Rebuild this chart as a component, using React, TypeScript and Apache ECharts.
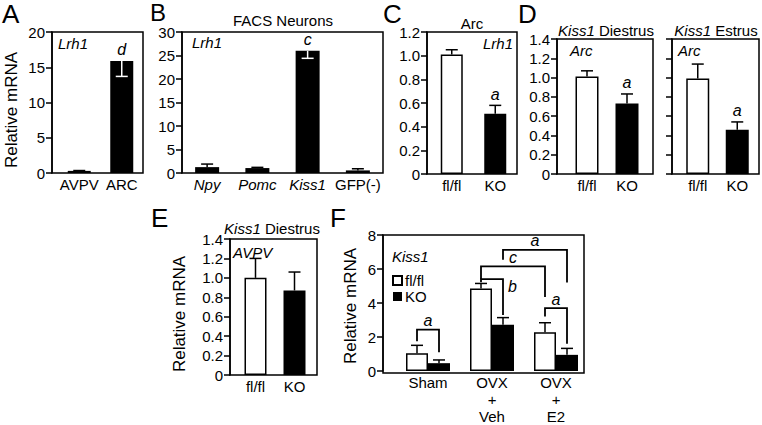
import React, { useEffect, useRef } from 'react';
import * as echarts from 'echarts';

const FONT = '"Liberation Sans", Arial, Helvetica, sans-serif';

// ---------- Data ----------
// A
const aCategories = ['AVPV', 'ARC'];
const aValues = [0.3, 15.9];
const aErrors = [0.05, 2.2];
const aErrDir = [1, -1];
const aSig = ['', 'd'];
const aAxis = [0, 20, 5];
// B
const bCategories = ['Npy', 'Pomc', 'Kiss1', 'GFP(-)'];
const bValues = [1.25, 1.05, 26.0, 0.55];
const bErrors = [0.65, 0.15, 1.6, 0.35];
const bErrDir = [1, 1, -1, 1];
const bSig = ['', '', 'c', ''];
const bAxis = [0, 30, 5];
// C
const cCategories = ['fl/fl', 'KO'];
const cValues = [1.01, 0.51];
const cErrors = [0.04, 0.07];
const cSig = ['', 'a'];
const cAxis = [0, 1.2, 0.2];
// D
const dCategories = ['fl/fl', 'KO'];
const dDiestrusValues = [1.01, 0.73];
const dDiestrusErrors = [0.06, 0.1];
const dEstrusValues = [0.99, 0.46];
const dEstrusErrors = [0.15, 0.08];
const dSig = ['', 'a'];
const dAxis = [0, 1.4, 0.2];
// E
const eCategories = ['fl/fl', 'KO'];
const eValues = [1.0, 0.87];
const eErrors = [0.2, 0.19];
const eSig = ['', ''];
const eAxis = [0, 1.4, 0.2];
// F
const fCategories = ['Sham', 'OVX\n+\nVeh', 'OVX\n+\nE2'];
const fFlflValues = [1.04, 4.85, 2.28];
const fFlflErrors = [0.47, 0.3, 0.56];
const fKoValues = [0.46, 2.72, 0.95];
const fKoErrors = [0.19, 0.42, 0.38];
const fAxis = [0, 8, 2];
// brackets: [fromCat, fromSide, fromDrop, toCat, toSide, toDrop, level, letter, letterPos]
const fBrackets: any[] = [
  [0, -1, 1.75, 0, 1, 1.1, 2.43, 'a', 'top'],
  [1, -1, 5.22, 1, 1, 3.3, 5.4, 'b', 'right'],
  [1, -1, 5.4, 2, -1, 4.35, 6.15, 'c', 'top'],
  [1, 1, 6.55, 2, 1, 5.2, 7.13, 'a', 'top'],
  [2, -1, 3.2, 2, 1, 1.6, 3.7, 'a', 'top'],
];

// ---------- Layout ----------
const frames: Record<string, any> = {
  A: { x: 52, y: 32, w: 91, h: 141, gl: 58, gr: 143, bw: 23 },
  B: { x: 182, y: 32, w: 201, h: 141, gl: 182, gr: 383, bw: 24 },
  C: { x: 427, y: 32, w: 90, h: 142, gl: 430, gr: 517, bw: 22 },
  D1: { x: 557, y: 39, w: 96, h: 135, gl: 567, gr: 647, bw: 23 },
  D2: { x: 672, y: 39, w: 87, h: 135, gl: 678, gr: 757, bw: 23 },
  E: { x: 230, y: 239, w: 87, h: 136, gl: 236, gr: 314, bw: 22 },
  F: { x: 383, y: 235, w: 201, h: 138, gl: 396, gr: 588, bw: 22 },
};
const order = ['A', 'B', 'C', 'D1', 'D2', 'E', 'F'];

const LW = 1.5;

function errRender(offset: number, sigs: string[] | null) {
  return (params: any, api: any) => {
    const i = api.value(0);
    const v = api.value(1);
    const e = api.value(2);
    const d = api.value(3);
    const p0 = api.coord([i, v]);
    const p1 = api.coord([i, v + d * e]);
    const x = p0[0] + offset;
    const color = d < 0 ? '#fff' : '#000';
    const children: any[] = [
      { type: 'line', shape: { x1: x, y1: p0[1], x2: x, y2: p1[1] }, style: { stroke: color, lineWidth: LW } },
      { type: 'line', shape: { x1: x - 6, y1: p1[1], x2: x + 6, y2: p1[1] }, style: { stroke: color, lineWidth: LW } },
    ];
    const s = sigs ? sigs[params.dataIndex] : '';
    if (s) {
      const topY = Math.min(p0[1], p1[1]);
      children.push({
        type: 'text',
        x: x,
        y: topY - 3,
        style: {
          text: s, fill: '#000', fontSize: 16, fontFamily: FONT, fontStyle: 'italic',
          align: 'center', verticalAlign: 'bottom', textAlign: 'center', textVerticalAlign: 'bottom',
        },
      });
    }
    return { type: 'group', children };
  };
}

function bracketRender(half: number) {
  return (params: any, api: any) => {
    const b = fBrackets[params.dataIndex];
    const xL = api.coord([b[0], 0])[0] + b[1] * half;
    const xR = api.coord([b[3], 0])[0] + b[4] * half;
    const yTop = api.coord([b[0], b[6]])[1];
    const yL = api.coord([b[0], b[2]])[1];
    const yR = api.coord([b[3], b[5]])[1];
    const children: any[] = [
      {
        type: 'polyline',
        shape: { points: [[xL, yL], [xL, yTop], [xR, yTop], [xR, yR]] },
        style: { stroke: '#000', fill: 'none', lineWidth: 1.8 },
      },
    ];
    const textStyle: any = { text: b[7], fill: '#000', fontSize: 16, fontFamily: FONT, fontStyle: 'italic' };
    if (b[8] === 'top') {
      children.push({
        type: 'text', x: (xL + xR) / 2, y: yTop - 1,
        style: { ...textStyle, align: 'center', verticalAlign: 'bottom', textAlign: 'center', textVerticalAlign: 'bottom' },
      });
    } else {
      const yT = api.coord([b[3], b[6] - 0.42])[1];
      children.push({
        type: 'text', x: xR + 5, y: yT,
        style: { ...textStyle, align: 'left', verticalAlign: 'middle', textAlign: 'left', textVerticalAlign: 'middle' },
      });
    }
    return { type: 'group', children };
  };
}

const whiteBar = { color: '#fff', borderColor: '#000', borderWidth: LW };
const blackBar = { color: '#000' };

function buildOption() {
  const grids: any[] = [];
  const xAxes: any[] = [];
  const yAxes: any[] = [];
  const series: any[] = [];
  const graphics: any[] = [];

  const fmt1 = (v: number) => (v === 0 ? '0' : v.toFixed(1));
  const fmt0 = (v: number) => String(v);
  const axisDefs: Record<string, any> = {
    A: { axis: aAxis, fmt: fmt0, cats: aCategories, labels: true },
    B: { axis: bAxis, fmt: fmt0, cats: bCategories, labels: true },
    C: { axis: cAxis, fmt: fmt1, cats: cCategories, labels: true },
    D1: { axis: dAxis, fmt: fmt1, cats: dCategories, labels: true },
    D2: { axis: dAxis, fmt: fmt1, cats: dCategories, labels: false },
    E: { axis: eAxis, fmt: fmt1, cats: eCategories, labels: true },
    F: { axis: fAxis, fmt: fmt0, cats: fCategories, labels: true },
  };

  order.forEach((k, idx) => {
    const f = frames[k];
    const ad = axisDefs[k];
    grids.push({ left: f.gl, top: f.y, width: f.gr - f.gl, height: f.h, containLabel: false });
    const labelBase: any = {
      color: '#000', fontSize: 15, fontFamily: FONT, margin: 4, interval: 0,
    };
    if (k === 'B') {
      labelBase.formatter = (v: string) => (v === 'GFP(-)' ? v : `{i|${v}}`);
      labelBase.rich = { i: { fontStyle: 'italic', fontSize: 15, fontFamily: FONT, color: '#000' } };
    }
    if (k === 'F') {
      labelBase.lineHeight = 17;
      labelBase.margin = 3;
    }
    xAxes.push({
      type: 'category', gridIndex: idx, data: ad.cats,
      axisLine: { show: false }, axisTick: { show: false }, axisLabel: labelBase,
    });
    yAxes.push({
      type: 'value', gridIndex: idx, min: ad.axis[0], max: ad.axis[1], interval: ad.axis[2],
      offset: f.gl - f.x,
      axisLine: { show: true, lineStyle: { color: '#000', width: LW } },
      axisTick: { show: true, length: 6, inside: false, lineStyle: { color: '#000', width: LW } },
      axisLabel: { show: ad.labels, color: '#000', fontSize: 15, fontFamily: FONT, margin: 7, formatter: ad.fmt },
      splitLine: { show: false },
    });
    graphics.push({
      type: 'rect', z: 100, silent: true,
      shape: { x: f.x, y: f.y, width: f.w, height: f.h },
      style: { fill: 'none', stroke: '#000', lineWidth: LW },
    });
  });

  const simple = (idx: number, name: string, vals: number[], errs: number[], dirs: number[], sigs: string[], colors: string[], bw: number) => {
    series.push({
      type: 'bar', name, xAxisIndex: idx, yAxisIndex: idx, barWidth: bw, z: 2, silent: true,
      data: vals.map((v, i) => ({ value: v, itemStyle: colors[i] === 'w' ? whiteBar : blackBar })),
    });
    series.push({
      type: 'custom', name: name + '-err', xAxisIndex: idx, yAxisIndex: idx, z: 3, silent: true,
      encode: { x: 0, y: 1 },
      renderItem: errRender(0, sigs),
      data: vals.map((v, i) => [i, v, errs[i], dirs[i]]),
    });
  };

  simple(0, 'A', aValues, aErrors, aErrDir, aSig, ['k', 'k'], frames.A.bw);
  simple(1, 'B', bValues, bErrors, bErrDir, bSig, ['k', 'k', 'k', 'k'], frames.B.bw);
  simple(2, 'C', cValues, cErrors, [1, 1], cSig, ['w', 'k'], frames.C.bw);
  simple(3, 'D1', dDiestrusValues, dDiestrusErrors, [1, 1], dSig, ['w', 'k'], frames.D1.bw);
  simple(4, 'D2', dEstrusValues, dEstrusErrors, [1, 1], dSig, ['w', 'k'], frames.D2.bw);
  simple(5, 'E', eValues, eErrors, [1, 1], eSig, ['w', 'k'], frames.E.bw);

  const fw = frames.F.bw;
  series.push({
    type: 'bar', name: 'fl/fl', xAxisIndex: 6, yAxisIndex: 6, barWidth: fw, barGap: '0%', z: 2, silent: true,
    itemStyle: whiteBar, data: fFlflValues,
  });
  series.push({
    type: 'bar', name: 'KO', xAxisIndex: 6, yAxisIndex: 6, barWidth: fw, barGap: '0%', z: 2, silent: true,
    itemStyle: blackBar, data: fKoValues,
  });
  series.push({
    type: 'custom', name: 'F-err-flfl', xAxisIndex: 6, yAxisIndex: 6, z: 3, silent: true, encode: { x: 0, y: 1 },
    renderItem: errRender(-fw / 2, null),
    data: fFlflValues.map((v, i) => [i, v, fFlflErrors[i], 1]),
  });
  series.push({
    type: 'custom', name: 'F-err-ko', xAxisIndex: 6, yAxisIndex: 6, z: 3, silent: true, encode: { x: 0, y: 1 },
    renderItem: errRender(fw / 2, null),
    data: fKoValues.map((v, i) => [i, v, fKoErrors[i], 1]),
  });
  series.push({
    type: 'custom', name: 'F-brackets', xAxisIndex: 6, yAxisIndex: 6, z: 4, silent: true, encode: { x: 0, y: 1 },
    renderItem: bracketRender(fw / 2),
    data: fBrackets.map((b) => [b[0], b[6]]),
  });

  const txt = (x: number, y: number, text: string, opts: any = {}) => ({
    type: 'text', x, y, silent: true, z: 110, rotation: opts.rotation || 0,
    style: {
      text, fill: '#000', fontSize: opts.size || 15, fontFamily: FONT, fontStyle: opts.italic ? 'italic' : 'normal',
      align: opts.align || 'left', verticalAlign: 'middle', textAlign: opts.align || 'left', textVerticalAlign: 'middle',
      rich: { i: { fontStyle: 'italic', fontSize: opts.size || 15, fontFamily: FONT, fill: '#000', color: '#000' } },
    },
  });

  // panel letters
  graphics.push(txt(2, 14, 'A', { size: 26 }));
  graphics.push(txt(150, 12.3, 'B', { size: 24 }));
  graphics.push(txt(383, 14, 'C', { size: 26 }));
  graphics.push(txt(518, 14, 'D', { size: 26 }));
  graphics.push(txt(151, 218, 'E', { size: 26 }));
  graphics.push(txt(330, 218, 'F', { size: 26 }));
  // titles
  graphics.push(txt(283, 20, 'FACS Neurons', { align: 'center' }));
  graphics.push(txt(472, 23, 'Arc', { align: 'center' }));
  graphics.push(txt(606, 30, '{i|Kiss1} Diestrus', { align: 'center' }));
  graphics.push(txt(716, 30, '{i|Kiss1} Estrus', { align: 'center' }));
  graphics.push(txt(272, 228, '{i|Kiss1} Diestrus', { align: 'center' }));
  // in-plot gene/region labels
  graphics.push(txt(58, 43, 'Lrh1', { italic: true }));
  graphics.push(txt(192, 42, 'Lrh1', { italic: true }));
  graphics.push(txt(513, 43, 'Lrh1', { italic: true, align: 'right' }));
  graphics.push(txt(570, 50, 'Arc', { italic: true }));
  graphics.push(txt(678, 50, 'Arc', { italic: true }));
  graphics.push(txt(233, 252, 'AVPV', { italic: true }));
  graphics.push(txt(392, 256, 'Kiss1', { italic: true }));
  // y titles
  graphics.push(txt(11, 110, 'Relative mRNA', { size: 17, align: 'center', rotation: Math.PI / 2 }));
  graphics.push(txt(179, 314, 'Relative mRNA', { size: 17, align: 'center', rotation: Math.PI / 2 }));
  graphics.push(txt(350, 306, 'Relative mRNA', { size: 17, align: 'center', rotation: Math.PI / 2 }));

  return {
    animation: false,
    backgroundColor: '#fff',
    textStyle: { fontFamily: FONT },
    grid: grids,
    xAxis: xAxes,
    yAxis: yAxes,
    legend: {
      data: ['fl/fl', 'KO'], orient: 'vertical', left: 387, top: 268, itemWidth: 9, itemHeight: 9, itemGap: 1,
      icon: 'rect', selectedMode: false,
      textStyle: { fontSize: 15, fontFamily: FONT, color: '#000', padding: [0, 0, 0, -2] },
    },
    graphic: { elements: graphics },
    series,
  };
}

export default function App() {
  const ref = useRef<HTMLDivElement>(null);
  useEffect(() => {
    document.body.style.margin = '0';
    if (!ref.current) return;
    const chart = echarts.init(ref.current, null, { renderer: 'svg' });
    chart.setOption(buildOption() as any);
    return () => chart.dispose();
  }, []);
  return <div ref={ref} style={{ width: 762, height: 425 }} />;
}
